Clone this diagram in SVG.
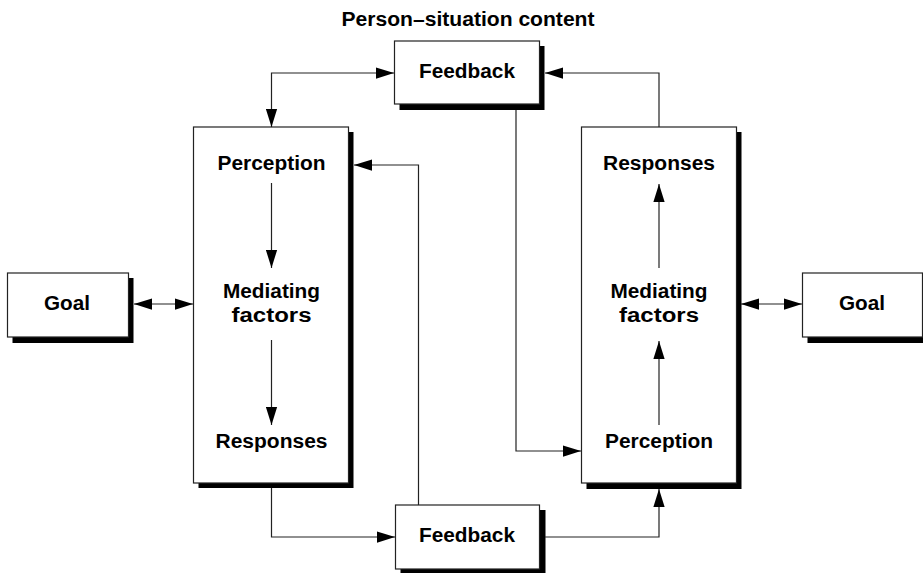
<svg xmlns="http://www.w3.org/2000/svg" width="923" height="573" viewBox="0 0 923 573">
<style>
.shadow{fill:#000}
.box{fill:#fff;stroke:#222;stroke-width:1.2}
.lbl{font-family:"Liberation Sans",Arial,Helvetica,sans-serif;font-weight:bold;font-size:20px;fill:#000;text-anchor:middle}
.con{fill:none;stroke:#222;stroke-width:1.2}
</style>
<defs>
<marker id="ah" markerUnits="userSpaceOnUse" markerWidth="18" markerHeight="12" refX="16" refY="5" orient="auto-start-reverse" viewBox="0 0 16 10">
<path d="M0,0 L16,5 L0,10 Z" fill="#000"/>
</marker>
</defs>
<rect width="923" height="573" fill="#fff"/>
<text class="lbl" x="468" y="26" textLength="253" lengthAdjust="spacingAndGlyphs">Person–situation content</text>

<g id="feedback-top">
<rect class="shadow" x="399.5" y="46" width="145" height="64"/>
<rect class="box" x="394.5" y="41" width="145" height="63"/>
<text class="lbl" x="467" y="78" textLength="96" lengthAdjust="spacingAndGlyphs">Feedback</text>
</g>

<g id="feedback-bottom">
<rect class="shadow" x="400.5" y="510" width="145" height="64"/>
<rect class="box" x="395.5" y="505" width="144" height="64"/>
<text class="lbl" x="467" y="542" textLength="96" lengthAdjust="spacingAndGlyphs">Feedback</text>
</g>

<g id="left-system">
<rect class="shadow" x="198.5" y="132" width="155" height="356"/>
<rect class="box" x="193.5" y="127" width="155" height="356"/>
<text class="lbl" x="271.5" y="170" textLength="108" lengthAdjust="spacingAndGlyphs">Perception</text>
<text class="lbl" x="271.5" y="298" textLength="97" lengthAdjust="spacingAndGlyphs">Mediating</text>
<text class="lbl" x="271.5" y="322" textLength="80" lengthAdjust="spacingAndGlyphs">factors</text>
<text class="lbl" x="271.5" y="448" textLength="112" lengthAdjust="spacingAndGlyphs">Responses</text>
</g>

<g id="right-system">
<rect class="shadow" x="586.5" y="132" width="155" height="357"/>
<rect class="box" x="581.5" y="127" width="155" height="356"/>
<text class="lbl" x="659" y="170" textLength="112" lengthAdjust="spacingAndGlyphs">Responses</text>
<text class="lbl" x="659" y="298" textLength="97" lengthAdjust="spacingAndGlyphs">Mediating</text>
<text class="lbl" x="659" y="322" textLength="80" lengthAdjust="spacingAndGlyphs">factors</text>
<text class="lbl" x="659" y="448" textLength="108" lengthAdjust="spacingAndGlyphs">Perception</text>
</g>

<g id="goal-left">
<rect class="shadow" x="12.5" y="278" width="121" height="65"/>
<rect class="box" x="7.5" y="273" width="121" height="64"/>
<text class="lbl" x="67" y="310" textLength="46" lengthAdjust="spacingAndGlyphs">Goal</text>
</g>

<g id="goal-right">
<rect class="shadow" x="807.5" y="278" width="121" height="65"/>
<rect class="box" x="802.5" y="273" width="120" height="64"/>
<text class="lbl" x="862" y="310" textLength="46" lengthAdjust="spacingAndGlyphs">Goal</text>
</g>

<g id="connectors">
<path class="con" d="M394,73 H271.5 V127" marker-start="url(#ah)" marker-end="url(#ah)"/>
<path class="con" d="M659,127 V73 H545" marker-end="url(#ah)"/>
<path class="con" d="M516,110 V451 H581" marker-end="url(#ah)"/>
<path class="con" d="M418.5,505 V165 H354" marker-end="url(#ah)"/>
<path class="con" d="M271.5,488 V537 H395" marker-end="url(#ah)"/>
<path class="con" d="M545,537 H659 V489" marker-end="url(#ah)"/>
<path class="con" d="M134,304 H193" marker-start="url(#ah)" marker-end="url(#ah)"/>
<path class="con" d="M741,304 H802" marker-start="url(#ah)" marker-end="url(#ah)"/>
<path class="con" d="M271.5,183 V268" marker-end="url(#ah)"/>
<path class="con" d="M271.5,340 V425" marker-end="url(#ah)"/>
<path class="con" d="M659,268 V184" marker-end="url(#ah)"/>
<path class="con" d="M659,425 V341" marker-end="url(#ah)"/>
</g>
</svg>
